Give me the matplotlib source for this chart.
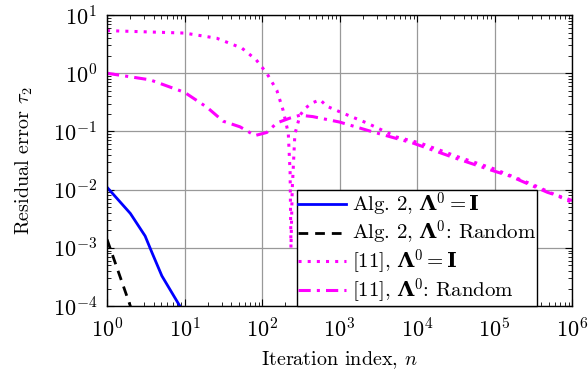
import numpy as np
import matplotlib
matplotlib.use('Agg')
import matplotlib.pyplot as plt

plt.rcParams['font.family'] = 'serif'
plt.rcParams['font.serif'] = ['cmr10', 'DejaVu Serif']
plt.rcParams['mathtext.fontset'] = 'custom'
plt.rcParams['mathtext.rm'] = 'cmr10'
plt.rcParams['mathtext.it'] = 'cmmi10'
plt.rcParams['mathtext.bf'] = 'DejaVu Serif:bold'
plt.rcParams['mathtext.fallback'] = 'cm'
plt.rcParams['axes.formatter.use_mathtext'] = True

# Alg. 2, Lambda^0 = I
alg_i_n = [1, 2, 3.1, 3.8, 5.1, 8.7, 12]
alg_i_r = [1.1e-2, 3.9e-3, 1.6e-3, 8.3e-4, 3.3e-4, 1.0e-4, 4e-5]
# Alg. 2, Lambda^0 random
alg_r_n = [1, 2, 3]
alg_r_r = [1.4e-3, 1.0e-4, 8e-6]
# [11], Lambda^0 = I
ref_i_n = [1, 10, 26, 55, 84, 115, 155, 187, 218, 230, 236, 245, 265, 309, 360, 445,
           560, 690, 1070, 2240, 5500, 11000, 35000, 96000, 3.2e5, 8.6e5, 1e6]
ref_i_r = [5.4, 4.9, 4.0, 2.7, 1.7, 1.0, 0.51, 0.23, 0.093, 0.02, 1.0e-3, 0.01, 0.09, 0.19, 0.25, 0.31,
           0.35, 0.27, 0.21, 0.14, 0.08, 0.063, 0.036, 0.023, 0.012, 0.0066, 0.006]
# [11], Lambda^0 random
ref_r_n = [1, 3.6, 10, 19.5, 31.5, 52, 81, 115, 155, 230, 309, 450, 1000, 2700, 8900,
           29000, 87000, 1.6e5, 4.8e5, 8.6e5, 1e6]
ref_r_r = [1.0, 0.77, 0.47, 0.26, 0.15, 0.12, 0.085, 0.096, 0.14, 0.17, 0.19, 0.18, 0.145, 0.098, 0.063,
           0.036, 0.022, 0.017, 0.009, 0.007, 0.0065]

fig = plt.figure(figsize=(5.88, 3.76), dpi=100)
ax = fig.add_axes([0.182, 0.186, 0.791, 0.774])

ax.plot(alg_i_n, alg_i_r, color='#0000ff', lw=2, label=r'Alg. 2, $\mathbf{\Lambda}^0 = \mathbf{I}$')
ax.plot(alg_r_n, alg_r_r, color='black', lw=2, ls=(0, (3.5, 2.5)), label=r'Alg. 2, $\mathbf{\Lambda}^0$: Random')
ax.plot(ref_i_n, ref_i_r, color='#ff00ff', lw=2.2, ls=(0, (1, 2)), label=r'[11], $\mathbf{\Lambda}^0 = \mathbf{I}$')
ax.plot(ref_r_n, ref_r_r, color='#ff00ff', lw=2.2, ls=(0, (4, 2, 1, 2)), label=r'[11], $\mathbf{\Lambda}^0$: Random')

ax.set_xscale('log')
ax.set_yscale('log')
ax.set_xlim(1, 1e6)
ax.set_ylim(1e-4, 10)
ax.grid(True, which='major', color='#999999', lw=0.9)
ax.tick_params(which='both', direction='in', top=True, right=True, labelsize=16)
ax.tick_params(which='major', length=5)
ax.tick_params(which='minor', length=3)
ax.tick_params(axis='x', pad=8)
ax.tick_params(axis='y', pad=7)
for s in ax.spines.values():
    s.set_linewidth(1.0)

ax.set_xlabel(r'Iteration index, $n$', fontsize=14.5, labelpad=6)
ax.set_ylabel(r'Residual error $\tau_2$', fontsize=14.5, labelpad=13)

leg = ax.legend(loc='lower right', bbox_to_anchor=(0.925, 0.0), fontsize=15, fancybox=False,
                edgecolor='black', framealpha=1, borderpad=0.05, labelspacing=0.0,
                handlelength=2.3, handletextpad=0.3, borderaxespad=0)
leg.get_frame().set_linewidth(1.0)

fig.savefig('out.png', dpi=100)
